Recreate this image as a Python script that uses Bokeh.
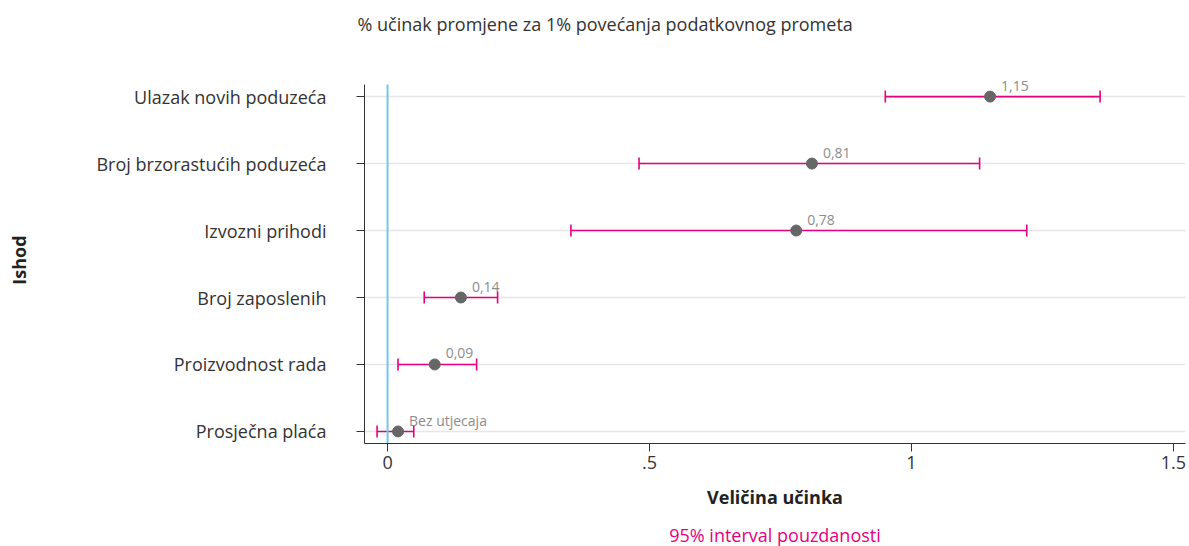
from bokeh.plotting import figure
from bokeh.models import (ColumnDataSource, Range1d, FixedTicker, Whisker, TeeHead, Title)
from bokeh.core.properties import value
from bokeh.embed import file_html
from bokeh.resources import INLINE

# ---- data ----
categories = ["Ulazak novih poduzeća", "Broj brzorastućih poduzeća", "Izvozni prihodi",
              "Broj zaposlenih", "Proizvodnost rada", "Prosječna plaća"]
effect = [1.15, 0.81, 0.78, 0.14, 0.09, 0.02]
ci_low = [0.95, 0.48, 0.35, 0.07, 0.02, -0.02]
ci_high = [1.36, 1.13, 1.22, 0.21, 0.17, 0.05]
point_labels = ["1,15", "0,81", "0,78", "0,14", "0,09", "Bez utjecaja"]
x_ticks = [0, 0.5, 1, 1.5]
x_tick_labels = ["0", ".5", "1", "1.5"]
title_text = "% učinak promjene za 1% povećanja podatkovnog prometa"
subtitle_text = "95% interval pouzdanosti"

FONT = "Open Sans"
n = len(categories)
ypos = [n - 1 - i for i in range(n)]

src = ColumnDataSource(dict(cat=categories, y=ypos, x=effect, lo=ci_low, hi=ci_high,
                            lab=point_labels))

# layout (pixels)
W, H = 1186, 546
LEFT, RIGHT, TOP, BOTTOM = 364, 1185, 76, 444
Y_PAD = 0.18          # category padding inside the axis line
Y_EXTRA = 0.12        # extra headroom above the axis line for the top value label

p = figure(width=W, height=H, output_backend="svg", toolbar_location=None,
           x_range=Range1d(-0.044, 1.523),
           y_range=Range1d(-Y_PAD, n - 1 + Y_PAD + Y_EXTRA),
           min_border_left=LEFT, min_border_right=W - RIGHT, min_border_top=TOP,
           min_border_bottom=H - BOTTOM)
p.outline_line_color = None
p.background_fill_color = "white"
p.border_fill_color = "white"

# title (spacer first = next to the frame, then the title itself)
p.add_layout(Title(text=" ", text_font_size="1px", standoff=38), "above")
p.add_layout(Title(text=title_text, align="left", text_font=FONT, text_font_size="18px",
                   text_font_style="normal", text_color="#333333", offset=-7, standoff=0),
             "above")
# subtitle below the axis
p.add_layout(Title(text=" ", text_font_size="1px", standoff=6), "below")
p.add_layout(Title(text=subtitle_text, align="center", text_font=FONT,
                   text_font_size="18px", text_font_style="normal", text_color="#e6007e",
                   standoff=0), "below")

# grid
p.xgrid.visible = False
p.ygrid.grid_line_color = "#e6e6e6"
p.ygrid.grid_line_width = 1.5

# axes
p.xaxis.ticker = FixedTicker(ticks=x_ticks)
p.xaxis.major_label_overrides = {k: v for k, v in zip(x_ticks, x_tick_labels)}
p.yaxis.ticker = FixedTicker(ticks=ypos)
p.yaxis.major_label_overrides = {yy: c for yy, c in zip(ypos, categories)}
p.yaxis.bounds = (-Y_PAD, n - 1 + Y_PAD)
for ax in (p.xaxis[0], p.yaxis[0]):
    ax.axis_line_color = "#333333"
    ax.major_tick_line_color = "#333333"
    ax.major_tick_out = 8
    ax.major_tick_in = 0
    ax.minor_tick_line_color = None
    ax.major_label_text_font = FONT
    ax.major_label_text_font_size = "18px"
    ax.major_label_text_color = "#333333"
    ax.axis_label_text_font = FONT
    ax.axis_label_text_font_size = "18px"
    ax.axis_label_text_font_style = "bold"
    ax.axis_label_text_color = "#222222"
p.xaxis.axis_label = "Veličina učinka"
p.xaxis.major_label_standoff = 4
p.xaxis.axis_label_standoff = 13
p.yaxis.axis_label = "Ishod"
p.yaxis.major_label_standoff = 30
p.yaxis.axis_label_standoff = 62

# zero reference line (spans the axis extent)
p.segment(x0=[0], y0=[-Y_PAD], x1=[0], y1=[n - 1 + Y_PAD], line_color="#75c5ee",
          line_width=2)

# whiskers
w = Whisker(source=src, base="y", lower="lo", upper="hi", dimension="width",
            line_color="#e6007e", line_width=1.6,
            lower_head=TeeHead(size=12, line_color="#e6007e", line_width=1.6),
            upper_head=TeeHead(size=12, line_color="#e6007e", line_width=1.6))
p.add_layout(w)

p.scatter("x", "y", source=src, size=11, fill_color="#666666", line_color="#666666")
p.text("x", "y", text="lab", source=src, x_offset=11, y_offset=-11,
       text_baseline="alphabetic", text_align="left", text_font_size="14px",
       text_color="#8c8c8c", text_font=value(FONT))

open("out.html", "w").write(file_html(p, INLINE))
